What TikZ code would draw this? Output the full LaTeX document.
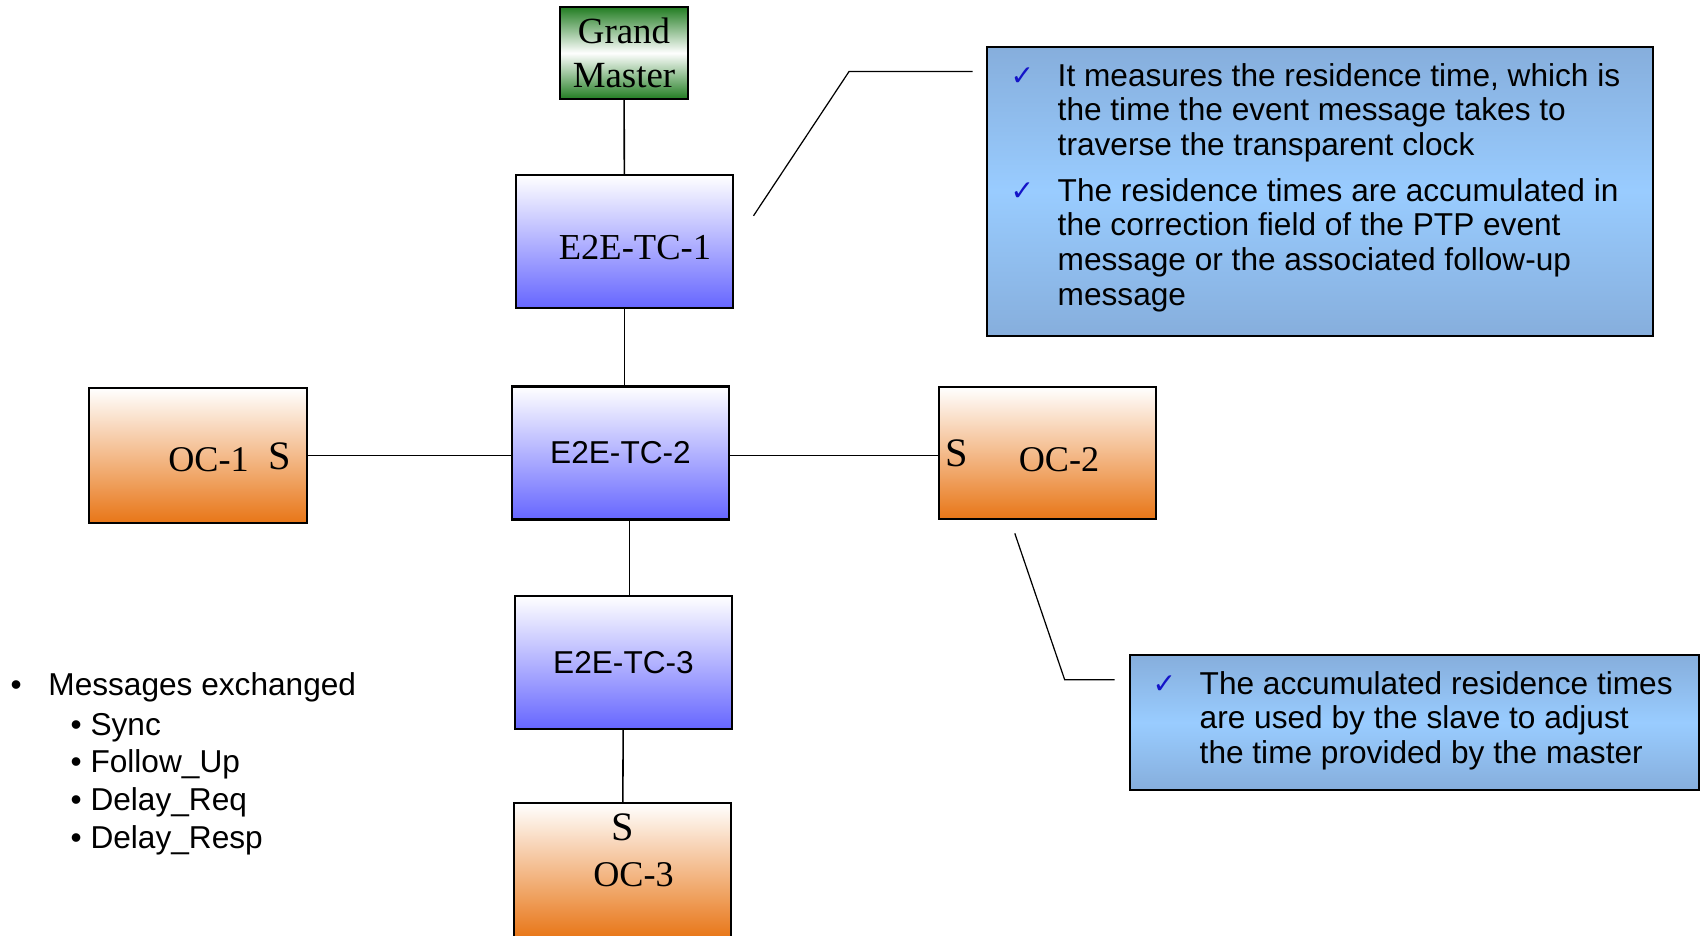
\documentclass[tikz,border=0pt]{standalone}
\usepackage{fontspec}
\setmainfont{Liberation Sans}
\newfontfamily\timesfont{Liberation Serif}
\newfontfamily\symfont{DejaVu Sans}
\definecolor{tcblue}{RGB}{102,102,255}
\definecolor{ocorange}{RGB}{232,118,23}
\definecolor{gmgreen}{RGB}{34,125,34}
\definecolor{noteedge}{RGB}{134,174,220}
\definecolor{notemid}{RGB}{153,204,255}
\definecolor{tickblue}{RGB}{20,20,200}
\begin{document}
\begin{tikzpicture}[
  clockbox/.style={draw, line width=0.6pt, minimum width=2.17cm, minimum height=1.33cm, inner sep=0pt},
  tcbox/.style={clockbox, top color=white, bottom color=tcblue},
  ocbox/.style={clockbox, top color=white, bottom color=ocorange},
  notebox/.style={draw, line width=0.6pt, inner sep=0pt, top color=noteedge, bottom color=noteedge, middle color=notemid},
  link/.style={line width=0.45pt},
  pointer/.style={line width=0.35pt},
  serif/.style={font=\timesfont\fontsize{10.3}{12.6}\selectfont, inner sep=0pt},
  port/.style={font=\timesfont\fontsize{11.5}{13}\selectfont, inner sep=0pt},
  notetext/.style={font=\fontsize{9}{9.87}\selectfont, align=left, anchor=base west, inner sep=0pt},
  tick/.style={font=\symfont\fontsize{8}{9}\selectfont, text=tickblue, anchor=base west, inner sep=0pt}
]
\useasboundingbox (0,0) rectangle (17,9.36);

% clocks
\node[draw, line width=0.6pt, minimum width=1.28cm, minimum height=0.92cm, inner sep=0pt,
  top color=gmgreen, bottom color=gmgreen, middle color=white,
  align=center, font=\timesfont\fontsize{10.5}{12.6}\selectfont] (gm) at (6.24,8.83) {Grand\\Master};
\node[tcbox, font=\timesfont\fontsize{10.4}{12}\selectfont] (tc1) at (6.245,6.945) {};
\node[inner sep=0pt, font=\timesfont\fontsize{10.4}{12}\selectfont] (tc1 name) at (6.35,6.88) {E2E-TC-1};
\node[tcbox, font=\fontsize{9}{11}\selectfont] (tc2) at (6.205,4.83) {E2E-TC-2};
\node[tcbox, font=\fontsize{9}{11}\selectfont] (tc3) at (6.235,2.735) {E2E-TC-3};

\node[ocbox, minimum width=2.18cm, minimum height=1.35cm] (oc1) at (1.98,4.805) {};
\node[serif] (oc1 name) at (2.085,4.76) {OC-1};
\node[port] (oc1 s) at (2.80,4.795) {S};

\node[ocbox, minimum height=1.32cm] (oc2) at (10.475,4.83) {};
\node[port] (oc2 s) at (9.565,4.83) {S};
\node[serif] (oc2 name) at (10.59,4.76) {OC-2};

\node[ocbox, minimum height=1.35cm] (oc3) at (6.225,0.655) {};
\node[port] (oc3 s) at (6.23,1.09) {S};
\node[serif] (oc3 name) at (6.335,0.61) {OC-3};

\draw[link] (gm) -- (tc1);
\draw[link] (tc1.south) -- (tc1.south |- tc2.north);
\draw[link] ([xshift=0.06cm]tc3.north |- tc2.south) -- ([xshift=0.06cm]tc3.north);
\draw[link] (tc3) -- (oc3);
\draw[link] (oc1.east) -- (oc1.east -| tc2.west);
\draw[link] (tc2.east |- oc1.east) -- (oc2.west |- oc1.east);

% notes
\node[notebox, minimum width=6.668cm, minimum height=2.895cm] (note1) at (13.2,7.4465) {};
\node[tick] (tick1) at (10.10,8.50) {✓};
\node[notetext] (note1 a) at (10.57,7.806) {It measures the residence time, which is\\the time the event message takes to\\traverse the transparent clock};
\node[tick] (tick2) at (10.10,7.35) {✓};
\node[notetext] (note1 b) at (10.57,6.308) {The residence times are accumulated in\\the correction field of the PTP event\\message or the associated follow-up\\message};

\node[notebox, minimum width=5.692cm, minimum height=1.355cm] (note2) at (14.144,2.1335) {};
\node[tick] (tick3) at (11.52,2.42) {✓};
\node[notetext] (note2 a) at (11.99,1.726) {The accumulated residence times\\are used by the slave to adjust\\the time provided by the master};

\coordinate (p1 start) at (7.535,7.202);
\coordinate (p1 knee) at (8.49,8.644);
\coordinate (p1 end) at (9.725,8.644);
\draw[pointer] (p1 start) -- (p1 knee) -- (p1 end);
\coordinate (p2 start) at (10.148,4.026);
\coordinate (p2 knee) at (10.647,2.562);
\coordinate (p2 end) at (11.146,2.562);
\draw[pointer] (p2 start) -- (p2 knee) -- (p2 end);

% message list
\node[notetext] (dot) at (0.10,2.40) {•};
\node[notetext] (msgs) at (0.477,2.40) {Messages exchanged};
\node[notetext, font=\fontsize{9}{10.8}\selectfont] (msg list) at (0.70,0.871) {• Sync\\• Follow\_Up\\• Delay\_Req\\• Delay\_Resp};
\end{tikzpicture}
\end{document}
